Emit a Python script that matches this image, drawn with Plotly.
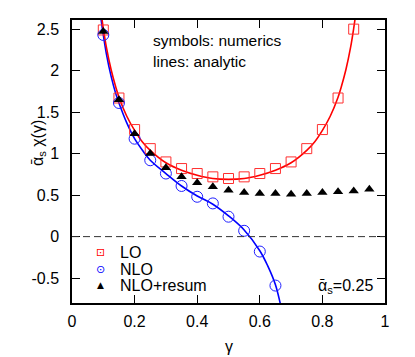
import plotly.graph_objects as go

# ---- data ----
gamma_lo = [0.10, 0.15, 0.20, 0.25, 0.30, 0.35, 0.40, 0.45, 0.50, 0.55, 0.60, 0.65, 0.70, 0.75, 0.80, 0.85, 0.90]
lo_numerics = [2.49, 1.67, 1.29, 1.06, 0.90, 0.82, 0.76, 0.72, 0.70, 0.72, 0.76, 0.82, 0.90, 1.06, 1.29, 1.67, 2.50]

gamma_nlo = [0.10, 0.15, 0.20, 0.25, 0.30, 0.35, 0.40, 0.45, 0.50, 0.55, 0.60, 0.65]
nlo_numerics = [2.43, 1.61, 1.18, 0.92, 0.76, 0.61, 0.48, 0.40, 0.24, 0.07, -0.18, -0.59]

gamma_res = [0.10, 0.15, 0.20, 0.25, 0.30, 0.35, 0.40, 0.45, 0.50, 0.55, 0.60, 0.65, 0.70, 0.75, 0.80, 0.85, 0.90, 0.95]
res_numerics = [2.47, 1.65, 1.24, 1.00, 0.83, 0.72, 0.65, 0.60, 0.56, 0.53, 0.52, 0.52, 0.51, 0.52, 0.53, 0.54, 0.55, 0.57]

lo_line_gamma = [0.09, 0.10, 0.11, 0.125, 0.14, 0.15, 0.175, 0.20, 0.225, 0.25, 0.30, 0.35, 0.40, 0.45, 0.50,
                 0.55, 0.60, 0.65, 0.70, 0.75, 0.775, 0.80, 0.825, 0.85, 0.86, 0.875, 0.89, 0.90, 0.91]
lo_line_vals = [2.78, 2.51, 2.28, 2.01, 1.80, 1.68, 1.45, 1.28, 1.14, 1.04, 0.89, 0.80, 0.74, 0.70, 0.69,
                0.70, 0.74, 0.80, 0.89, 1.04, 1.14, 1.28, 1.45, 1.68, 1.80, 2.01, 2.28, 2.51, 2.78]

nlo_line_gamma = [0.085, 0.09, 0.10, 0.11, 0.125, 0.14, 0.15, 0.175, 0.20, 0.225, 0.25, 0.30, 0.35, 0.40,
                  0.45, 0.50, 0.55, 0.60, 0.625, 0.65, 0.665, 0.68]
nlo_line_vals = [2.86, 2.70, 2.43, 2.20, 1.93, 1.72, 1.61, 1.37, 1.18, 1.04, 0.92, 0.76, 0.61, 0.49,
                 0.39, 0.25, 0.08, -0.17, -0.35, -0.58, -0.80, -1.05]

x_ticks = [0, 0.2, 0.4, 0.6, 0.8, 1]
x_ticktext = ["0", "0.2", "0.4", "0.6", "0.8", "1"]
y_ticks = [-0.5, 0, 0.5, 1, 1.5, 2, 2.5]
y_ticktext = ["-0.5", "0", "0.5", "1", "1.5", "2", "2.5"]

legend_labels = ["LO", "NLO", "NLO+resum"]
legend_symbols = ["\u22a1", "\u2299", "\u25b2"]
legend_colors = ["#ff0000", "#0000ff", "#000000"]

FONT = "Liberation Sans, Arial, DejaVu Sans, sans-serif"

fig = go.Figure()

fig.add_trace(go.Scatter(x=nlo_line_gamma, y=nlo_line_vals, mode="lines",
                         line=dict(color="#0000ff", width=1.6, shape="spline"), showlegend=False))
fig.add_trace(go.Scatter(x=lo_line_gamma, y=lo_line_vals, mode="lines",
                         line=dict(color="#ff0000", width=1.6, shape="spline"), showlegend=False))
fig.add_trace(go.Scatter(x=gamma_lo, y=lo_numerics, mode="markers",
                         marker=dict(symbol="square-open", size=10, color="#ff3030", line=dict(width=1)),
                         showlegend=False))
fig.add_trace(go.Scatter(x=gamma_nlo, y=nlo_numerics, mode="markers",
                         marker=dict(symbol="circle-open", size=11, color="#2020ff", line=dict(width=1)),
                         showlegend=False))
fig.add_trace(go.Scatter(x=gamma_res, y=res_numerics, mode="markers",
                         marker=dict(symbol="triangle-up", size=9, color="#000000"),
                         showlegend=False))

# dashed zero line
fig.add_shape(type="line", xref="x domain", x0=0, x1=1, yref="y", y0=0, y1=0,
              line=dict(color="#333333", width=1, dash="7px,4px"))

annotations = [
    dict(text="symbols: numerics", x=0.2524, y=0.926, xanchor="left", yanchor="middle",
         font=dict(size=15.5)),
    dict(text="lines: analytic", x=0.2524, y=0.855, xanchor="left", yanchor="middle",
         font=dict(size=15.5)),
    dict(text="\u1fb1<sub>s</sub>=0.25", x=0.968, y=0.058, xanchor="right", yanchor="middle",
         font=dict(size=16)),
    dict(text="\u1fb1<sub>s</sub> \u03c7(\u03b3)", x=-0.1086, y=0.565, xanchor="center", yanchor="middle",
         textangle=-90, font=dict(size=16)),
    dict(text="\u03b3", x=0.5, y=-0.152, xanchor="center", yanchor="middle", font=dict(size=16)),
]
legend_y = [0.180, 0.120, 0.0636]
for lab, sym, col, yy in zip(legend_labels, legend_symbols, legend_colors, legend_y):
    annotations.append(dict(text=lab, x=0.147, y=yy, xanchor="left", yanchor="middle",
                            font=dict(size=16)))
    annotations.append(dict(text=sym, x=0.0895, y=yy, xanchor="center", yanchor="middle",
                            font=dict(size=11 if sym != "\u25b2" else 9, color=col,
                                      family="DejaVu Sans")))
for a in annotations:
    a.update(xref="paper", yref="paper", showarrow=False)
    a.setdefault("font", {})
    a["font"].setdefault("family", FONT)
    a["font"].setdefault("color", "#000000")

# page body has an 8px default margin: shrink figure so the plot area lands where the reference has it
fig.update_layout(
    template="none",
    width=407, height=349,
    margin=dict(l=64, r=30, t=12, b=54, autoexpand=False),
    paper_bgcolor="white", plot_bgcolor="white",
    font=dict(family=FONT, size=16, color="#000000"),
    annotations=annotations,
    xaxis=dict(range=[0, 1], tickvals=x_ticks, ticktext=x_ticktext, ticks="inside", ticklen=8,
               tickwidth=1, tickcolor="#000", showline=True, linecolor="#000", linewidth=1.5,
               mirror="ticks", showgrid=False, zeroline=False, automargin=False,
               ticklabelstandoff=3),
    yaxis=dict(range=[-0.8, 2.61], tickvals=y_ticks, ticktext=y_ticktext, ticks="inside", ticklen=8,
               tickwidth=1, tickcolor="#000", showline=True, linecolor="#000", linewidth=1.5,
               mirror="ticks", showgrid=False, zeroline=False, automargin=False,
               ticklabelstandoff=8),
    showlegend=False,
)

fig.write_html("out.html")
